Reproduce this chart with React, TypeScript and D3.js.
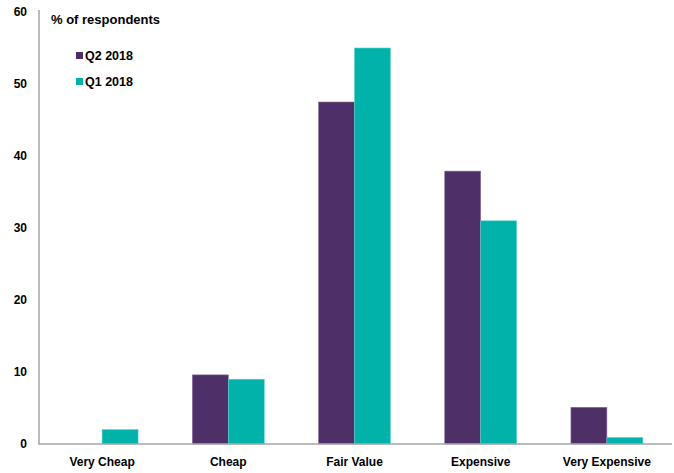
import React from "react";
import * as d3 from "d3";

const categories = ["Very Cheap", "Cheap", "Fair Value", "Expensive", "Very Expensive"];
const seriesNames = ["Q2 2018", "Q1 2018"];
const q2Values = [0, 9.6, 47.5, 37.9, 5.1];
const q1Values = [2.0, 9.0, 55.0, 31.0, 0.9];
const yTicks = [0, 10, 20, 30, 40, 50, 60];
const colors = ["#4E2F68", "#00B2A9"];

export default function App() {
  const W = 674, H = 473;
  const left = 39, right = 670, top = 12, bottom = 444;
  const x0 = d3.scaleBand<string>().domain(categories).range([left, right]).paddingInner(0.43).paddingOuter(0.215);
  const x1 = d3.scaleBand<string>().domain(seriesNames).range([0, x0.bandwidth()]);
  const y = d3.scaleLinear().domain([0, 60]).range([bottom, top]);
  const series = [q2Values, q1Values];
  const font = "'Liberation Sans', Arial, sans-serif";
  return (
    <svg width={W} height={H} style={{ position: "absolute", left: 0, top: 0, background: "#fff" }} fontFamily={font}>
      <line x1={left} x2={left} y1={y(60) - 2} y2={bottom} stroke="#A6A6A6" strokeWidth={1.5} />
      {yTicks.map((t) => (
        <text key={t} x={27} y={y(t)} dy="0.35em" textAnchor="end" fontSize={12} fontWeight="bold" fill="#000">{t}</text>
      ))}
      {series.map((vals, si) =>
        categories.map((c, i) => {
          const v = vals[i];
          if (v <= 0) return null;
          const bx = (x0(c) ?? 0) + (x1(seriesNames[si]) ?? 0);
          return (
            <rect key={si + "-" + c} x={bx} y={y(v)} width={x1.bandwidth()} height={bottom - y(v)}
              fill={colors[si]} stroke={si === 0 ? "#8A72A0" : "#5FD3CD"} strokeWidth={0.6} />
          );
        })
      )}
      <line x1={left - 1} x2={right + 2} y1={bottom} y2={bottom} stroke="#A6A6A6" strokeWidth={1.5} />
      {categories.map((c) => (
        <text key={c} x={(x0(c) ?? 0) + x0.bandwidth() / 2} y={466} textAnchor="middle" fontSize={12} fontWeight="bold" fill="#000">{c}</text>
      ))}
      <text x={51} y={24} fontSize={13} fontWeight="bold" fill="#000">% of respondents</text>
      {seriesNames.map((s, i) => (
        <g key={s}>
          <rect x={76} y={52 + i * 26} width={7} height={7} fill={colors[i]} />
          <text x={85} y={60 + i * 26} fontSize={12.5} fontWeight="bold" fill="#000">{s}</text>
        </g>
      ))}
    </svg>
  );
}
